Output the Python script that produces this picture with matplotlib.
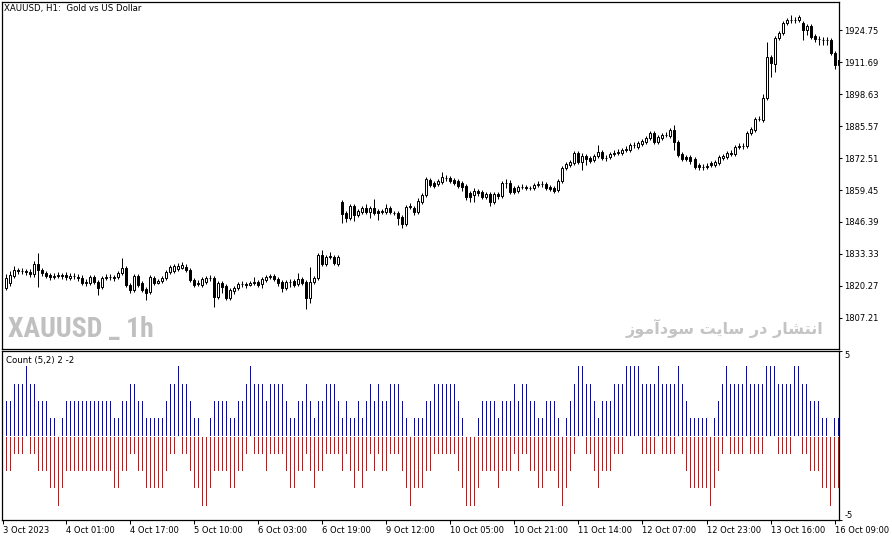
import matplotlib
matplotlib.use("Agg")
import matplotlib.pyplot as plt
from matplotlib import font_manager

# XAUUSD H1 candles, 3 Oct 2023 .. 16 Oct 2023
opens = [
    1819.5, 1821.5, 1824.4, 1826.6, 1826.4, 1826.2, 1826.0, 1825.2, 1829.2, 1826.8,
    1825.6, 1824.6, 1824.0, 1824.3, 1824.6, 1824.7, 1823.5, 1824.3, 1824.0, 1823.5,
    1821.5, 1821.5, 1823.9, 1821.9, 1819.9, 1823.5, 1823.9, 1823.9, 1823.9, 1825.6,
    1827.6, 1820.7, 1818.6, 1824.4, 1821.5, 1819.0, 1817.8, 1823.5, 1821.5, 1822.3,
    1823.5, 1826.0, 1826.4, 1827.2, 1827.6, 1828.0, 1826.8, 1822.7, 1821.0, 1820.7,
    1821.9, 1823.5, 1823.5, 1815.8, 1821.5, 1820.3, 1815.4, 1818.2, 1819.5, 1821.1,
    1821.1, 1820.7, 1821.9, 1821.9, 1821.1, 1822.7, 1824.0, 1824.3, 1823.1, 1821.9,
    1819.5, 1821.9, 1822.3, 1821.1, 1823.1, 1821.9, 1815.4, 1821.9, 1823.5, 1832.9,
    1829.2, 1832.1, 1832.1, 1829.2, 1854.6, 1850.1, 1848.0, 1852.9, 1849.2, 1850.5,
    1852.1, 1850.5, 1852.1, 1850.9, 1850.5, 1850.5, 1852.1, 1850.1, 1850.1, 1848.4,
    1845.6, 1852.5, 1852.1, 1850.5, 1854.6, 1857.4, 1863.5, 1862.3, 1861.9, 1862.7,
    1864.4, 1864.4, 1863.5, 1863.1, 1862.3, 1861.1, 1858.2, 1857.4, 1859.0, 1858.6,
    1856.6, 1857.8, 1854.6, 1857.8, 1857.0, 1862.3, 1862.3, 1860.3, 1859.0, 1860.7,
    1860.5, 1860.3, 1860.3, 1861.5, 1861.9, 1861.9, 1860.7, 1860.3, 1859.4, 1863.1,
    1868.4, 1869.7, 1870.5, 1874.6, 1870.9, 1873.3, 1872.5, 1871.7, 1873.3, 1875.0,
    1872.5, 1872.9, 1874.1, 1874.5, 1874.5, 1875.8, 1875.8, 1877.8, 1877.0, 1878.2,
    1879.0, 1880.7, 1882.7, 1879.0, 1880.7, 1881.9, 1881.5, 1883.9, 1879.0, 1874.1,
    1872.9, 1872.9, 1872.1, 1869.7, 1868.8, 1868.8, 1870.5, 1869.7, 1870.5, 1872.5,
    1872.9, 1874.6, 1874.1, 1877.0, 1877.4, 1877.4, 1882.7, 1883.9, 1888.4, 1888.0,
    1897.0, 1913.7, 1910.9, 1921.5, 1923.5, 1927.6, 1928.8, 1928.8, 1928.8, 1927.6,
    1924.8, 1926.4, 1922.3, 1921.1, 1920.7, 1920.7, 1920.7, 1915.4, 1910.5,
]
highs = [
    1825.0, 1826.4, 1828.4, 1827.6, 1827.6, 1827.2, 1827.2, 1830.4, 1833.8, 1827.6,
    1826.4, 1825.6, 1825.4, 1825.8, 1825.6, 1825.8, 1825.4, 1825.6, 1825.2, 1824.6,
    1823.0, 1824.8, 1824.8, 1822.6, 1824.4, 1825.2, 1825.2, 1824.8, 1826.4, 1831.7,
    1828.4, 1821.5, 1825.2, 1825.2, 1822.3, 1819.9, 1824.8, 1824.4, 1823.1, 1824.4,
    1826.8, 1828.8, 1829.2, 1829.6, 1830.0, 1829.2, 1827.6, 1823.5, 1822.7, 1824.0,
    1824.4, 1824.8, 1824.4, 1822.3, 1822.3, 1821.1, 1819.4, 1820.3, 1821.9, 1822.3,
    1821.9, 1822.3, 1824.0, 1822.7, 1823.9, 1824.8, 1825.2, 1825.0, 1823.9, 1822.7,
    1822.7, 1823.1, 1823.1, 1825.6, 1823.9, 1822.7, 1828.0, 1824.4, 1833.7, 1835.0,
    1832.9, 1834.1, 1832.9, 1832.9, 1855.4, 1850.9, 1853.7, 1853.7, 1851.7, 1852.9,
    1853.7, 1852.9, 1855.8, 1851.7, 1851.7, 1853.7, 1852.9, 1850.9, 1850.9, 1849.2,
    1853.3, 1854.1, 1852.9, 1856.2, 1858.2, 1864.8, 1864.3, 1863.1, 1863.9, 1866.8,
    1865.6, 1865.2, 1864.4, 1863.9, 1863.1, 1861.9, 1859.0, 1860.3, 1859.9, 1859.4,
    1858.6, 1858.6, 1858.6, 1858.6, 1863.1, 1863.9, 1863.5, 1861.1, 1861.5, 1861.9,
    1861.5, 1861.1, 1862.3, 1863.1, 1863.1, 1862.7, 1861.5, 1861.1, 1863.9, 1869.2,
    1870.9, 1871.7, 1875.4, 1875.4, 1874.6, 1874.1, 1873.3, 1874.1, 1877.8, 1875.8,
    1873.7, 1874.9, 1875.8, 1876.2, 1876.6, 1877.4, 1878.6, 1879.0, 1879.4, 1880.3,
    1881.5, 1883.5, 1883.5, 1881.9, 1882.7, 1883.1, 1884.8, 1886.0, 1879.8, 1874.9,
    1873.7, 1873.7, 1872.9, 1870.5, 1870.1, 1870.5, 1871.3, 1871.7, 1873.7, 1874.1,
    1875.4, 1875.8, 1877.8, 1878.6, 1878.6, 1883.5, 1885.2, 1889.2, 1889.6, 1898.6,
    1919.9, 1914.5, 1922.3, 1924.4, 1928.4, 1929.6, 1930.9, 1930.1, 1930.9, 1928.4,
    1927.2, 1927.2, 1923.1, 1922.3, 1921.9, 1921.9, 1921.5, 1916.2, 1913.3,
]
lows = [
    1818.6, 1820.3, 1823.5, 1825.2, 1825.0, 1824.8, 1824.0, 1824.0, 1820.0, 1824.4,
    1823.4, 1822.8, 1823.0, 1823.4, 1823.2, 1822.8, 1822.6, 1823.0, 1822.2, 1820.6,
    1820.4, 1820.8, 1821.0, 1816.6, 1819.0, 1822.6, 1822.6, 1822.2, 1823.0, 1824.8,
    1819.9, 1817.4, 1817.8, 1819.9, 1817.8, 1814.6, 1817.0, 1820.7, 1821.0, 1821.5,
    1822.7, 1825.2, 1825.6, 1826.4, 1827.0, 1826.0, 1822.0, 1819.9, 1820.3, 1820.0,
    1821.0, 1822.3, 1811.6, 1815.0, 1817.4, 1814.6, 1814.6, 1817.0, 1818.6, 1819.9,
    1819.5, 1820.3, 1820.7, 1819.9, 1819.5, 1822.0, 1823.1, 1822.3, 1820.3, 1817.8,
    1818.6, 1819.9, 1819.9, 1820.3, 1820.7, 1810.9, 1813.3, 1821.1, 1822.7, 1828.4,
    1828.4, 1831.3, 1828.8, 1828.4, 1846.0, 1846.4, 1847.2, 1846.8, 1848.4, 1849.7,
    1849.7, 1848.0, 1849.2, 1847.2, 1849.7, 1849.7, 1849.7, 1849.2, 1845.2, 1843.9,
    1844.8, 1851.7, 1849.2, 1849.7, 1853.7, 1856.6, 1860.7, 1860.3, 1861.1, 1862.0,
    1863.1, 1862.3, 1861.5, 1860.3, 1859.0, 1855.4, 1854.6, 1854.6, 1857.0, 1855.8,
    1855.8, 1852.9, 1853.7, 1855.8, 1856.2, 1860.3, 1857.8, 1857.8, 1858.2, 1859.9,
    1859.4, 1859.4, 1859.4, 1860.7, 1860.7, 1859.4, 1859.0, 1858.2, 1858.6, 1862.3,
    1867.6, 1868.8, 1869.7, 1870.1, 1867.6, 1869.7, 1870.5, 1870.9, 1872.5, 1871.7,
    1871.3, 1872.1, 1873.3, 1873.7, 1873.7, 1874.9, 1874.9, 1876.6, 1876.2, 1877.4,
    1878.2, 1879.9, 1878.2, 1878.2, 1879.9, 1881.1, 1880.7, 1875.8, 1872.9, 1871.3,
    1871.3, 1870.1, 1868.0, 1867.6, 1867.6, 1868.0, 1868.8, 1868.8, 1869.7, 1871.7,
    1872.1, 1873.3, 1873.3, 1876.2, 1876.2, 1876.6, 1881.9, 1883.1, 1887.6, 1887.2,
    1896.2, 1905.6, 1907.6, 1920.7, 1922.7, 1926.8, 1927.6, 1927.6, 1928.0, 1920.7,
    1922.7, 1921.1, 1919.9, 1918.6, 1918.6, 1918.6, 1914.6, 1909.0, 1909.7,
]
closes = [
    1823.5, 1824.8, 1826.8, 1826.4, 1826.2, 1826.0, 1825.2, 1829.2, 1826.8, 1825.6,
    1824.4, 1823.9, 1824.3, 1824.7, 1824.3, 1823.9, 1824.3, 1824.4, 1823.5, 1821.5,
    1821.9, 1823.9, 1821.9, 1819.5, 1823.5, 1823.9, 1823.9, 1823.5, 1825.6, 1827.6,
    1820.7, 1818.6, 1824.4, 1820.7, 1818.6, 1817.4, 1823.9, 1821.5, 1822.3, 1823.5,
    1826.0, 1828.0, 1828.4, 1828.4, 1828.8, 1826.8, 1822.7, 1820.7, 1821.5, 1823.1,
    1823.5, 1823.5, 1815.8, 1821.5, 1819.9, 1815.4, 1818.6, 1819.5, 1821.1, 1821.1,
    1820.7, 1821.5, 1821.5, 1820.7, 1823.1, 1823.9, 1824.3, 1823.1, 1821.5, 1819.5,
    1821.9, 1821.9, 1820.7, 1823.1, 1821.5, 1815.4, 1821.9, 1823.5, 1832.9, 1829.2,
    1832.1, 1832.5, 1829.7, 1832.1, 1849.7, 1848.0, 1852.9, 1849.2, 1850.9, 1852.1,
    1850.5, 1852.1, 1850.1, 1850.1, 1850.9, 1852.1, 1850.5, 1850.1, 1848.0, 1845.6,
    1852.5, 1852.9, 1850.5, 1855.0, 1857.4, 1863.9, 1861.5, 1861.1, 1863.1, 1864.8,
    1864.4, 1863.1, 1862.3, 1861.1, 1860.7, 1856.6, 1856.6, 1859.0, 1858.2, 1856.6,
    1857.8, 1854.6, 1857.8, 1857.0, 1862.3, 1862.3, 1858.6, 1858.6, 1860.7, 1860.7,
    1860.3, 1860.3, 1861.5, 1861.9, 1861.9, 1860.3, 1859.9, 1859.0, 1863.1, 1868.4,
    1870.1, 1870.9, 1874.6, 1870.9, 1873.3, 1872.1, 1871.3, 1873.3, 1875.0, 1872.5,
    1872.5, 1874.1, 1874.5, 1875.0, 1875.8, 1876.2, 1877.8, 1877.8, 1878.6, 1879.4,
    1880.7, 1882.7, 1879.0, 1881.1, 1881.9, 1881.9, 1883.9, 1879.0, 1873.7, 1872.1,
    1872.1, 1871.3, 1868.8, 1868.8, 1868.8, 1869.2, 1869.7, 1870.9, 1872.9, 1873.3,
    1874.6, 1874.1, 1877.0, 1877.4, 1877.4, 1882.7, 1884.3, 1888.4, 1888.4, 1897.0,
    1913.7, 1911.3, 1921.5, 1923.5, 1927.6, 1928.8, 1928.8, 1928.8, 1930.1, 1924.8,
    1926.4, 1921.9, 1921.1, 1921.1, 1920.7, 1920.7, 1915.4, 1910.5, 1912.5,
]

# Count (5,2) indicator: up bars (blue) and down bars (red)
up_count = [
    2, 2, 3, 3, 3, 4, 3, 3, 2, 2, 2, 1, 1, 0, 1, 2, 2, 2, 2, 2,
    2, 2, 2, 2, 2, 2, 2, 1, 1, 2, 2, 3, 3, 2, 2, 1, 1, 1, 1, 1,
    2, 3, 3, 4, 3, 3, 2, 1, 1, 0, 0, 1, 2, 2, 2, 2, 1, 1, 2, 2,
    3, 4, 3, 3, 3, 2, 3, 3, 3, 3, 2, 1, 1, 2,
    2, 3, 2, 1, 2, 2, 3, 3, 3, 2, 1, 2, 1, 1, 2, 1, 2, 3, 2, 3,
    2, 2, 3, 3, 3, 2, 1, 0, 1, 1, 1, 2, 2, 3, 3, 3, 3, 3, 3, 2,
    1, 0, 0, 0, 1, 2, 2, 2, 2, 1, 2, 2, 2, 3, 2, 3, 3, 2, 2, 1,
    1, 2, 2, 2, 1, 0, 1, 2, 3, 4, 4, 3, 3, 2, 1,
    2, 2, 2, 3, 3, 3, 4, 4, 4, 4, 3, 3, 3, 3, 4, 3, 3, 3, 3, 4,
    3, 2, 1, 1, 1, 1, 1, 0, 1, 2, 3, 4, 3, 3, 3, 3, 4, 3, 3, 3,
    3, 4, 4, 4, 3, 3, 3, 3, 4, 4, 3, 3, 2, 2, 2, 1, 1, 0, 1, 1,
]
down_count = [
    -2, -2, -1, -1, -1, 0, -1, -1, -2, -2, -2, -3, -3, -4, -3, -2, -2, -2, -2, -2,
    -2, -2, -2, -2, -2, -2, -2, -3, -3, -2, -2, -1, -1, -2, -2, -3, -3, -3, -3, -3,
    -2, -1, -1, 0, -1, -1, -2, -3, -3, -4, -4, -3, -2, -2, -2, -2, -3, -3, -2, -2,
    -1, 0, -1, -1, -1, -2, -1, -1, -1, -1, -2, -3, -3, -2,
    -2, -1, -2, -3, -2, -2, -1, -1, -1, -1, -2, -1, -2, -3, -2, -3, -2, -1, -2, -1,
    -2, -2, -1, -1, -1, -2, -3, -4, -3, -3, -3, -2, -2, -1, -1, -1, -1, -1, -1, -2,
    -3, -4, -4, -4, -3, -2, -2, -2, -2, -3, -2, -2, -2, -1, -2, -1, -1, -2, -2, -3,
    -3, -2, -2, -2, -3, -4, -3, -2, -1, 0, 0, -1, -1, -2, -3,
    -2, -2, -2, -1, -1, -1, 0, 0, 0, 0, -1, -1, -1, -1, 0, -1, -1, -1, -1, 0,
    -1, -2, -3, -3, -3, -3, -3, -4, -3, -2, -1, 0, -1, -1, -1, -1, 0, -1, -1, -1,
    -1, 0, 0, 0, -1, -1, -1, -1, 0, 0, -1, -1, -2, -2, -2, -3, -3, -4, -3, -3,
]

price_ticks = [1807.21, 1820.27, 1833.33, 1846.39, 1859.45,
               1872.51, 1885.57, 1898.63, 1911.69, 1924.75]
date_pos = [-0.82, 15, 31, 47, 63, 79, 95, 111, 127, 143, 159, 175, 191, 207]
date_labels = ['3 Oct 2023', '4 Oct 01:00', '4 Oct 17:00', '5 Oct 10:00',
               '6 Oct 03:00', '6 Oct 19:00', '9 Oct 12:00', '10 Oct 05:00',
               '10 Oct 21:00', '11 Oct 14:00', '12 Oct 07:00', '12 Oct 23:00',
               '13 Oct 16:00', '16 Oct 09:00']

watermark_fa = 'انتشار در سایت سودآموز'

# matplotlib has no arabic shaping, so pick presentation forms by hand
FORMS = {
    '\u0627': ('\ufe8d', '\ufe8e', None, None),
    '\u0622': ('\ufe81', '\ufe82', None, None),
    '\u0646': ('\ufee5', '\ufee6', '\ufee7', '\ufee8'),
    '\u062a': ('\ufe95', '\ufe96', '\ufe97', '\ufe98'),
    '\u0634': ('\ufeb5', '\ufeb6', '\ufeb7', '\ufeb8'),
    '\u0631': ('\ufead', '\ufeae', None, None),
    '\u062f': ('\ufea9', '\ufeaa', None, None),
    '\u0633': ('\ufeb1', '\ufeb2', '\ufeb3', '\ufeb4'),
    '\u06cc': ('\ufbfc', '\ufbfd', '\ufbfe', '\ufbff'),
    '\u0648': ('\ufeed', '\ufeee', None, None),
    '\u0645': ('\ufee1', '\ufee2', '\ufee3', '\ufee4'),
    '\u0632': ('\ufeaf', '\ufeb0', None, None),
}


def shape_fa(s):
    out = []
    for i, ch in enumerate(s):
        if ch not in FORMS:
            out.append(ch)
            continue
        prev = s[i - 1] if i > 0 else ''
        nxt = s[i + 1] if i + 1 < len(s) else ''
        join_prev = prev in FORMS and FORMS[prev][2] is not None
        join_next = FORMS[ch][2] is not None and nxt in FORMS
        iso, fin, ini, med = FORMS[ch]
        if join_prev and join_next:
            out.append(med)
        elif join_prev:
            out.append(fin)
        elif join_next:
            out.append(ini)
        else:
            out.append(iso)
    return ''.join(reversed(out))


def narrow_font():
    # look for a condensed bold face for the big watermark
    for fam, stretch in [('Liberation Sans Narrow', 'normal'),
                         ('Roboto Condensed', 'normal'),
                         ('DejaVu Sans', 'condensed'),
                         ('Roboto', 'condensed')]:
        fp = font_manager.FontProperties(family=fam, weight='bold', stretch=stretch)
        try:
            path = font_manager.findfont(fp, fallback_to_default=False)
        except ValueError:
            continue
        low = path.lower()
        if 'narrow' in low or 'condensed' in low:
            return fp
    return None


plt.rcParams['font.family'] = ['DejaVu Sans']
plt.rcParams['font.size'] = 6

W, H = 892, 541
fig = plt.figure(figsize=(W / 100, H / 100), dpi=100)
ax = fig.add_axes([0.0017, 0.3540, 0.9392, 0.6432])
ax2 = fig.add_axes([0.0017, 0.0397, 0.9392, 0.3106])

idx = list(range(len(closes)))
bottoms = [min(o, c) for o, c in zip(opens, closes)]
heights = [max(abs(c - o), 0.05) for o, c in zip(opens, closes)]
faces = ['white' if c >= o else 'black' for o, c in zip(opens, closes)]

ax.vlines(idx, lows, highs, color='black', linewidth=0.72, zorder=1, snap=True)
ax.bar(idx, heights, bottom=bottoms, width=0.5, color=faces,
       edgecolor='black', linewidth=0.72, zorder=2, snap=True)

ax.set_xlim(-1.124, 208.17)
ax.set_ylim(1794.35, 1936.39)
ax.set_xticks([])
ax.yaxis.tick_right()
ax.set_yticks(price_ticks)
ax.set_yticklabels([f'{p:.2f}' for p in price_ticks])
ax.tick_params(axis='y', direction='out', length=2.5, width=0.75, pad=1,
               labelsize=6)

# one pixel wide histogram bars
ax2.bar(idx, up_count, width=0.25, color='#0000ff', linewidth=0, snap=True)
ax2.bar(idx, down_count, bottom=-0.06, width=0.25, color='#ff0000',
        linewidth=0, snap=True)
ax2.set_xlim(-1.124, 208.17)
ax2.set_ylim(-4.87, 4.87)
ax2.yaxis.tick_right()
ax2.set_yticks([-4.87, 4.87])
ax2.set_yticklabels(['-5', '5'])
for lab, va in zip(ax2.get_yticklabels(), ['bottom', 'top']):
    lab.set_verticalalignment(va)
ax2.set_xticks(date_pos)
ax2.set_xticklabels(date_labels, ha='left')
ax2.tick_params(axis='y', direction='out', length=2.5, width=0.75, pad=1,
                labelsize=6)
ax2.tick_params(axis='x', direction='out', length=3, width=0.75, pad=1.5,
                labelsize=6)

for a in (ax, ax2):
    for sp in a.spines.values():
        sp.set_linewidth(0.9)
        sp.set_color('black')

fig.text(4 / W, 1 - 9 / H, 'XAUUSD, H1:  Gold vs US Dollar', fontsize=6.2,
         va='center', ha='left')
fig.text(6 / W, 1 - 361 / H, 'Count (5,2) 2 -2', fontsize=6.2,
         va='center', ha='left')

nf = narrow_font()
if nf is not None:
    fig.text(8 / W, 1 - 330 / H, 'XAUUSD _ 1h', fontproperties=nf,
             fontsize=20, color='#c0c0c0', va='center', ha='left')
else:
    fig.text(8 / W, 1 - 330 / H, 'XAUUSD _ 1h', weight='bold',
             fontsize=14.5, color='#c0c0c0', va='center', ha='left')
fig.text(823 / W, 1 - 328 / H, shape_fa(watermark_fa), family=['DejaVu Sans'],
         weight='bold', fontsize=11.5, color='#c4c4c4', va='center', ha='right')

fig.savefig('out.png', dpi=100)
